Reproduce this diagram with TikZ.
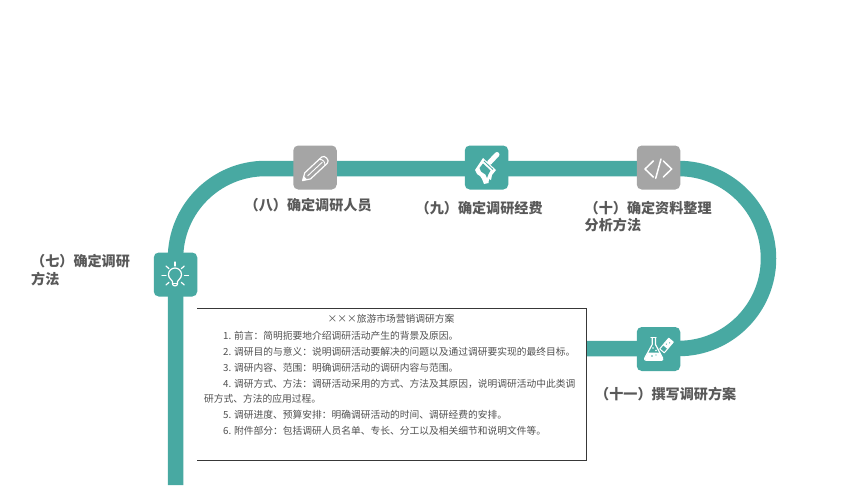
\documentclass[tikz,border=0pt]{standalone}
\usepackage{fontspec}
\setmainfont{Noto Sans CJK SC}
\usetikzlibrary{calc}
\definecolor{teal1}{HTML}{48A9A2}
\definecolor{gray1}{HTML}{A5A5A5}
\definecolor{label1}{HTML}{595959}
\definecolor{doc1}{HTML}{505050}
\tikzset{
  track/.style={draw=teal1,line width=15.5pt},
  tealbox/.style={rounded corners=5pt,fill=teal1,minimum width=43.5pt,minimum height=44pt,inner sep=0pt,draw=none},
  graybox/.style={rounded corners=5pt,fill=gray1,minimum width=43.5pt,minimum height=44pt,inner sep=0pt,draw=none},
  lab/.style={text=label1,font=\fontsize{14.1}{17.5}\selectfont\bfseries,anchor=north west,inner sep=0pt,align=left},
  docline/.style={text=doc1,font=\fontsize{9.75}{12}\selectfont,anchor=west,inner sep=0pt},
  ic/.style={draw=white,line width=1.2pt,line cap=round,line join=round},
}
\begin{document}
\begin{tikzpicture}[x=1pt,y=-1pt]
\useasboundingbox (0,0) rectangle (860,485);
\fill[white] (0,0) rectangle (860,485);
\coordinate (bottom) at (175.5,485);
\coordinate (flaskend) at (585,348.5);
\coordinate (rtop) at (678.5,168.5);
% track
\draw[track] (bottom) -- (175.5,258.5) arc[start angle=180,end angle=90,radius=90pt] -- (rtop)
  arc[start angle=90,end angle=-90,radius=90pt] -- (flaskend);
% boxes
\node[tealbox] (n7) at (175.5,274.5) {};
\node[graybox] (n8) at (315,167.5) {};
\node[tealbox] (n9) at (486.5,167.5) {};
\node[graybox] (n10) at (658.5,167.5) {};
\node[tealbox] (n11) at (658.5,349) {};
% bulb
\begin{scope}[ic]
\draw (172.5,284) -- (172.5,281.5) .. controls (171.5,279) and (168.5,278.5) .. (168.5,274.5)
  arc[start angle=180,end angle=0,radius=6.5pt]
  .. controls (181.5,278.5) and (178.5,279) .. (177.5,281.5) -- (177.5,284)
  .. controls (177.5,286.5) and (172.5,286.5) .. (172.5,284);
\draw (172.5,283.5) -- (177.5,283.5);
\draw (175,262) -- (175,266);
\draw (162,275.2) -- (166,275.2);
\draw (184.5,275.2) -- (188.5,275.2);
\draw (166,266) -- (169,268.7);
\draw (184.3,266) -- (181.3,268.7);
\draw (166,285) -- (169,282.3);
\draw (184.3,285) -- (181.3,282.3);
\end{scope}
% pencil
\begin{scope}[shift={(315,169)},rotate=43]
\draw[ic] (-17,0) -- (-10,-4.2) -- (13,-4.2) .. controls (17,-4.2) and (17,4.2) .. (13,4.2) -- (-10,4.2) -- cycle;
\fill[white] (-17,0) -- (-13,-2.2) -- (-13,2.2) -- cycle;
\draw[ic,line width=0.9pt] (-10,0) -- (10,0);
\draw[ic,line width=0.9pt] (9.5,-4.2) .. controls (12.5,-2) and (12.5,2) .. (9.5,4.2);
\end{scope}
% brush
\draw[white,line width=5pt,line cap=round] (497,154.5) -- (489.5,162.5);
\fill[white] (483,158) -- (496,170) -- (492,175) -- (491,180) -- (489,179) -- (488.5,183) -- (484,184) -- (482,179) -- (480,176) -- (477,174) -- (475,170) -- cycle;
\fill[teal1] (483,163.5) -- (490.5,170.5) -- (488.5,174) -- (487,178) -- (485.5,174.5) -- (481,171.5) -- (479.5,168) -- cycle;
\draw[teal1,line width=0.8pt] (484,161) -- (493,169.5);
% code
\begin{scope}[ic,line width=1.5pt]
\draw (653.3,161) -- (645,169) -- (653.3,177);
\draw (661,159) -- (655.7,178.3);
\draw (663.3,161) -- (671.7,169) -- (663.3,177);
\end{scope}
% flask
\draw[ic] (651,337.8) -- (656,337.8);
\draw[ic] (652.2,338) -- (652.2,344.5) -- (644.8,358) .. controls (644.2,359.5) and (645,360.2) .. (646,360.2) -- (661.5,360.2) .. controls (662.5,360.2) and (663.2,359.5) .. (662.6,358) -- (655.5,344.5) -- (655.5,338);
\fill[white] (648.3,352.5) -- (659.5,352.5) -- (662.6,358.5) .. controls (663,359.6) and (662.5,360.2) .. (661.5,360.2) -- (646,360.2) .. controls (645,360.2) and (644.5,359.6) .. (644.8,358.5) -- cycle;
\fill[white] (653,348) circle (0.9pt) (656,350.5) circle (0.8pt);
\fill[teal1] (652,356) circle (0.9pt) (656,355) circle (0.7pt);
\begin{scope}[shift={(666.5,345.5)},rotate=50]
\draw[ic,line width=1pt] (-7,-3) -- (7,-3) -- (7,3) -- (-7,3) -- cycle;
\fill[white] (-2,-3) rectangle (7,3);
\fill[teal1] (1,-1) circle (0.7pt) (4,0.8) circle (0.7pt);
\end{scope}
% document
\node[fill=white,draw=none,minimum width=388.5pt,minimum height=152pt,inner sep=0pt,anchor=north west] (docbox) at (197,308) {};
\draw[doc1!70!black,line width=0.7pt] (docbox.north west) -- (docbox.north east) -- (docbox.south east) -- (docbox.south west);
\node[docline,anchor=center] (d0) at (391,319) {×××旅游市场营销调研方案};
\node[docline] (d1) at (223,336) {1. 前言：简明扼要地介绍调研活动产生的背景及原因。};
\node[docline] (d2) at (223,352) {2. 调研目的与意义：说明调研活动要解决的问题以及通过调研要实现的最终目标。};
\node[docline] (d3) at (223,368) {3. 调研内容、范围：明确调研活动的调研内容与范围。};
\node[docline] (d4) at (223,384) {4. 调研方式、方法：调研活动采用的方式、方法及其原因，说明调研活动中此类调};
\node[docline] (d4b) at (204,399) {研方式、方法的应用过程。};
\node[docline] (d5) at (223,415) {5. 调研进度、预算安排：明确调研活动的时间、调研经费的安排。};
\node[docline] (d6) at (223,431) {6. 附件部分：包括调研人员名单、专长、分工以及相关细节和说明文件等。};
% labels
\node[lab] (l7) at (31,254.5) {（七）确定调研\\方法};
\node[lab] (l8) at (244.5,198) {（八）确定调研人员};
\node[lab] (l9) at (415.5,201) {（九）确定调研经费};
\node[lab] (l10) at (584.5,201) {（十）确定资料整理\\分析方法};
\node[lab] (l11) at (595,387) {（十一）撰写调研方案};
\end{tikzpicture}
\end{document}
